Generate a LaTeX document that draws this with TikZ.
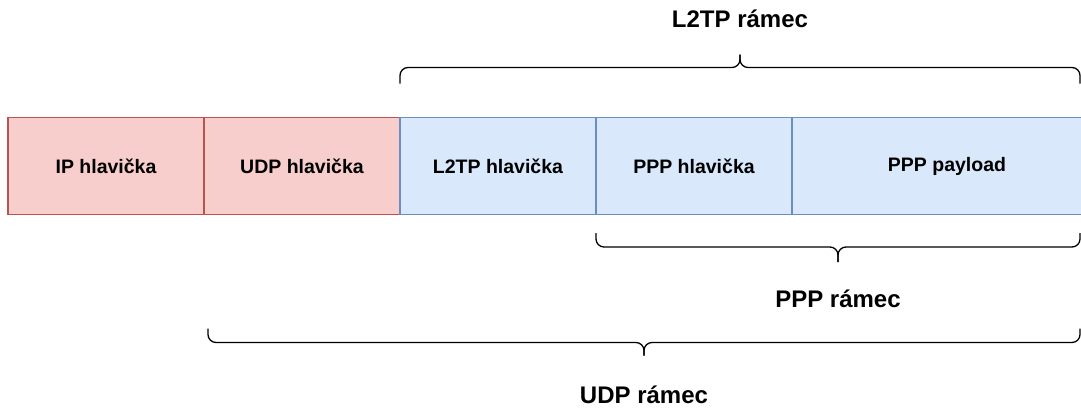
\documentclass[tikz,border=0pt]{standalone}
\usepackage{fontspec}
\setmainfont{Liberation Sans}
\usetikzlibrary{positioning,calc}
\definecolor{hdrfill}{HTML}{F8CECC}
\definecolor{hdrline}{HTML}{B85450}
\definecolor{tunfill}{HTML}{DAE8FC}
\definecolor{tunline}{HTML}{6C8EBF}
\tikzset{
	field/.style={draw,line width=1.3pt,minimum width=196pt,minimum height=97pt,inner sep=0pt,outer sep=0pt,font=\fontsize{19.5}{23}\selectfont\bfseries},
	outerhdr/.style={field,fill=hdrfill,draw=hdrline},
	tunnel/.style={field,fill=tunfill,draw=tunline},
	framebrace/.style={draw,line width=1.3pt,rounded corners=8pt},
	framelabel/.style={anchor=base,inner sep=0pt,font=\fontsize{24}{28}\selectfont\bfseries},
}

\begin{document}
\begin{tikzpicture}[x=1pt,y=-1pt]
	\useasboundingbox (0,0) rectangle (1081,407);
	% packet fields
	\node[outerhdr,anchor=west] (ip) at (8,166) {IP hlavička};
	\node[outerhdr,right=0pt of ip] (udp) {UDP hlavička};
	\node[tunnel,right=0pt of udp] (l2tp) {L2TP hlavička};
	\node[tunnel,right=0pt of l2tp] (ppp) {PPP hlavička};
	\node[tunnel,right=0pt of ppp,minimum width=310pt] (payload) {PPP payload};
	\coordinate (redge) at (1080,0);
	% L2TP frame brace (above)
	\coordinate (t1) at ($(l2tp.north west)+(0,-34)$);
	\coordinate (t2) at (t1 -| redge);
	\coordinate (ttip) at ($(t1)!.5!(t2)+(0,-29)$);
	\draw[framebrace] (t1) -- ++(0,-16) -| (ttip);
	\draw[framebrace] (t2) -- ++(0,-16) -| (ttip);
	\node[framelabel] (l2tpr) at ($(ttip)+(0,-27)$) {L2TP rámec};
	% PPP frame brace (below)
	\coordinate (p1) at ($(ppp.south west)+(0,18.5)$);
	\coordinate (p2) at (p1 -| redge);
	\coordinate (ptip) at ($(p1)!.5!(p2)+(0,29)$);
	\draw[framebrace] (p1) -- ++(0,14) -| (ptip);
	\draw[framebrace] (p2) -- ++(0,14) -| (ptip);
	\node[framelabel] (pppr) at ($(ptip)+(0,45)$) {PPP rámec};
	% UDP frame brace (bottom)
	\coordinate (u1) at ($(udp.south west)+(4,114)$);
	\coordinate (u2) at (u1 -| redge);
	\coordinate (utip) at ($(u1)!.5!(u2)+(0,27)$);
	\draw[framebrace] (u1) -- ++(0,14) -| (utip);
	\draw[framebrace] (u2) -- ++(0,14) -| (utip);
	\node[framelabel] (udpr) at ($(utip)+(0,48)$) {UDP rámec};
\end{tikzpicture}
\end{document}
